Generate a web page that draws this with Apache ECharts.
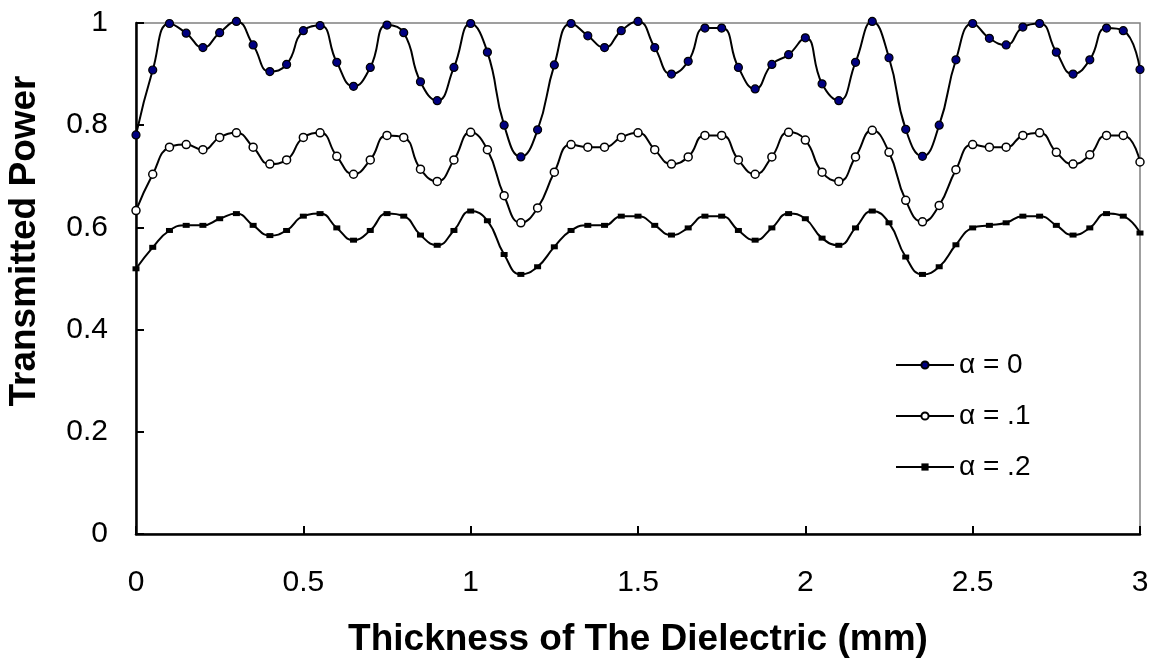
<!DOCTYPE html>
<html>
<head>
<meta charset="utf-8">
<script src="https://cdn.jsdelivr.net/npm/echarts@6/dist/echarts.min.js"></script>
<style>
html,body{margin:0;padding:0;background:#fff;}
#chart{width:1152px;height:663px;}
</style>
</head>
<body>
<div id="chart"></div>
<script>
var thickness = [0,0.05,0.1,0.15,0.2,0.25,0.3,0.35,0.4,0.45,0.5,0.55,0.6,0.65,0.7,0.75,0.8,0.85,0.9,0.95,
  1.0,1.05,1.1,1.15,1.2,1.25,1.3,1.35,1.4,1.45,1.5,1.55,1.6,1.65,1.7,1.75,1.8,1.85,1.9,1.95,
  2.0,2.05,2.1,2.15,2.2,2.25,2.3,2.35,2.4,2.45,2.5,2.55,2.6,2.65,2.7,2.75,2.8,2.85,2.9,2.95,3.0];

var alpha0 = [0.781,0.908,0.999,0.980,0.952,0.981,1.003,0.957,0.905,0.919,0.985,0.995,0.923,0.876,0.913,0.996,0.981,0.885,0.848,0.913,
  0.999,0.943,0.800,0.738,0.791,0.918,0.999,0.975,0.952,0.985,1.003,0.952,0.900,0.925,0.990,0.990,0.913,0.871,0.919,0.938,
  0.971,0.881,0.848,0.923,1.003,0.932,0.792,0.739,0.800,0.928,0.999,0.970,0.957,0.992,0.999,0.943,0.900,0.928,0.990,0.985,0.909];

var alpha1 = [0.633,0.704,0.757,0.762,0.752,0.776,0.785,0.757,0.724,0.732,0.776,0.785,0.739,0.704,0.732,0.780,0.776,0.714,0.690,0.732,
  0.786,0.752,0.662,0.609,0.638,0.708,0.762,0.757,0.757,0.776,0.785,0.752,0.724,0.738,0.780,0.780,0.732,0.704,0.738,0.786,
  0.771,0.708,0.690,0.738,0.790,0.747,0.653,0.611,0.643,0.713,0.762,0.757,0.757,0.780,0.785,0.747,0.724,0.742,0.780,0.780,0.728];

var alpha2 = [0.519,0.561,0.594,0.604,0.604,0.617,0.627,0.604,0.584,0.594,0.622,0.627,0.599,0.575,0.594,0.627,0.622,0.585,0.565,0.594,
  0.632,0.613,0.547,0.508,0.523,0.562,0.594,0.604,0.604,0.622,0.622,0.604,0.585,0.599,0.622,0.622,0.594,0.575,0.599,0.627,
  0.617,0.579,0.565,0.599,0.632,0.609,0.542,0.508,0.523,0.566,0.599,0.604,0.609,0.622,0.622,0.604,0.585,0.599,0.627,0.622,0.589];

var seriesNames = ['α = 0', 'α = .1', 'α = .2'];
var xTitle = 'Thickness of The Dielectric (mm)';
var yTitle = 'Transmitted Power';

function pairs(ys){ return thickness.map(function(x,i){ return [x, ys[i]]; }); }

var chart = echarts.init(document.getElementById('chart'), null, {renderer:'canvas'});
var font = 'Liberation Sans, Arial, sans-serif';
var lineStyle = {color:'#000', width:2};

chart.setOption({
  backgroundColor:'#fff',
  animation:false,
  grid:{left:136, right:12, top:23, bottom:128, show:true, borderColor:'#808080', borderWidth:1.5, backgroundColor:'transparent'},
  xAxis:{
    type:'value', min:0, max:3, interval:0.5,
    name:xTitle, nameLocation:'middle', nameGap:87,
    nameTextStyle:{fontFamily:font, fontSize:37, fontWeight:'bold', color:'#000'},
    axisLine:{show:true, onZero:false, lineStyle:{color:'#000', width:2.5}},
    axisTick:{show:true, inside:true, length:8, lineStyle:{color:'#000', width:2}},
    axisLabel:{fontFamily:font, fontSize:30, color:'#000', margin:34},
    splitLine:{show:false}
  },
  yAxis:{
    type:'value', min:0, max:1, interval:0.2,
    axisLine:{show:true, onZero:false, lineStyle:{color:'#000', width:2.5}},
    axisTick:{show:true, inside:true, length:8, lineStyle:{color:'#000', width:2}},
    axisLabel:{fontFamily:font, fontSize:30, color:'#000', margin:28},
    splitLine:{show:false}
  },
  graphic:[{
    type:'text', x:25, y:241, rotation:Math.PI/2,
    style:{text:yTitle, fontFamily:font, fontSize:37, fontWeight:'bold', fill:'#000', align:'center', verticalAlign:'middle'}
  }],
  legend:{
    show:true, orient:'vertical', left:890, top:346,
    itemWidth:58, itemHeight:9, itemGap:23,
    textStyle:{fontFamily:font, fontSize:28, color:'#000', lineHeight:28, padding:[0,0,0,0]},
    data:seriesNames
  },
  series:[
    {name:seriesNames[0], type:'line', data:pairs(alpha0), smooth:0.5, clip:false,
     symbol:'circle', symbolSize:8, lineStyle:lineStyle,
     itemStyle:{color:'#000080', borderColor:'#000', borderWidth:1.2}},
    {name:seriesNames[1], type:'line', data:pairs(alpha1), smooth:0.5, clip:false,
     symbol:'circle', symbolSize:8, lineStyle:lineStyle,
     itemStyle:{color:'#fff', borderColor:'#000', borderWidth:1.5}},
    {name:seriesNames[2], type:'line', data:pairs(alpha2), smooth:0.5, clip:false,
     symbol:'rect', symbolSize:[7,5], lineStyle:lineStyle,
     itemStyle:{color:'#000', borderColor:'#000', borderWidth:0}}
  ]
});
</script>
</body>
</html>
